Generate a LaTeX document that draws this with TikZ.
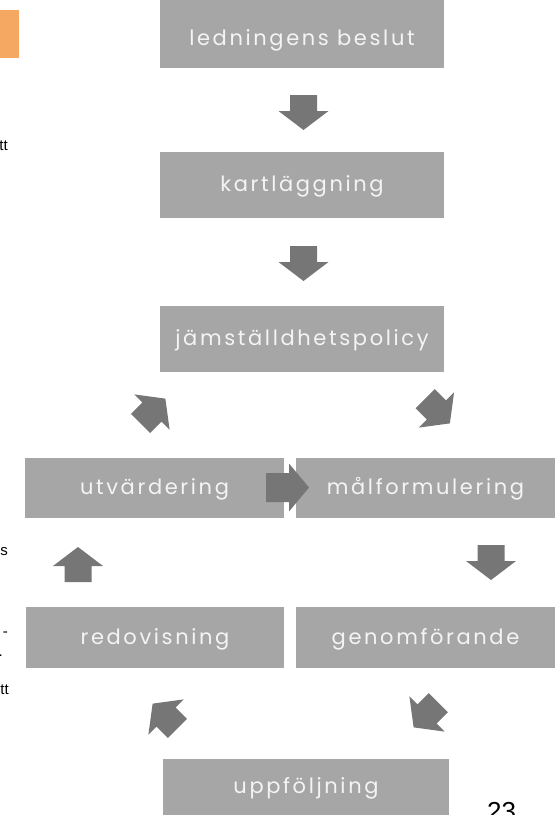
\documentclass[tikz,border=0pt]{standalone}
\usepackage{fontspec}
\newfontfamily\boxfont{Poppins}[LetterSpace=12.5]
\newfontfamily\pagefont{Liberation Sans}
\definecolor{boxgray}{RGB}{166,166,166}
\definecolor{arrowgray}{RGB}{118,118,118}
\definecolor{boxtext}{RGB}{244,244,244}
\definecolor{tabor}{RGB}{245,168,98}
\tikzset{
  stage/.style={fill=boxgray, text=boxtext, inner sep=0pt,
    font=\boxfont\fontsize{21}{24}\selectfont, text height=13.5pt, text depth=0pt},
  pagetext/.style={inner sep=0pt, font=\pagefont\fontsize{15}{18}\selectfont, text=black},
  pics/blockarrow/.style={code={
    \fill[arrowgray] (-17.5,-13.5) -- (-1.5,-13.5) -- (-1.5,-25) -- (17.5,0)
      -- (-1.5,25) -- (-1.5,13.5) -- (-17.5,13.5) -- cycle;}}
}
\begin{document}
\begin{tikzpicture}[x=1pt,y=-1pt]
\useasboundingbox (0,0) rectangle (559,815);
% orange tab of the page
\fill[tabor] (0,10) rectangle (19,58);
% stages
\node[stage, minimum width=284pt, minimum height=68pt, text height=22.5pt] (led) at (302,34) {ledningens beslut};
\node[stage, minimum width=284pt, minimum height=66pt] (kart) at (302,185) {kartläggning};
\node[stage, minimum width=284pt, minimum height=66pt] (jam) at (302,339) {jämställdhetspolicy};
\node[stage, minimum width=259pt, minimum height=60pt] (utv) at (154.5,488) {utvärdering};
\node[stage, minimum width=259pt, minimum height=60pt] (mal) at (425.5,488) {målformulering};
\node[stage, minimum width=258pt, minimum height=61pt] (red) at (155,637.5) {redovisning};
\node[stage, minimum width=259pt, minimum height=61pt] (gen) at (425.5,637.5) {genomförande};
\node[stage, minimum width=286pt, minimum height=56pt] (upp) at (306,787) {uppföljning};
% block arrows
\pic at (303.5,112.5) [rotate=-90] {blockarrow};
\pic at (303.5,263.5) [rotate=-90] {blockarrow};
\pic at (437.5,411) [rotate=-45] {blockarrow};
\pic at (491,562.5) [rotate=-90] {blockarrow};
\pic at (426,715) [rotate=-135] {blockarrow};
\pic at (165,716) [rotate=135] {blockarrow};
\pic at (78,564.5) [rotate=90] {blockarrow};
\pic at (153,411) [rotate=45] {blockarrow};
\fill[arrowgray] (266,473) -- (289,473) -- (289,463.5) -- (309,487.5)
  -- (289,511.5) -- (289,502) -- (266,502) -- cycle;
% fragments of the neighbouring page text
\node[pagetext, anchor=base east] (f1) at (8,150) {tt};
\node[pagetext, anchor=base east] (f2) at (8,555) {s};
\node[pagetext, anchor=base east] (f3) at (8,636) {-};
\node[pagetext, anchor=base east] (f4) at (3,656) {.};
\node[pagetext, anchor=base east] (f5) at (9,694) {tt};
% page number
\node[inner sep=0pt, anchor=north west, font=\pagefont\fontsize{26}{30}\selectfont] (pg) at (487,802) {23};
\end{tikzpicture}
\end{document}
